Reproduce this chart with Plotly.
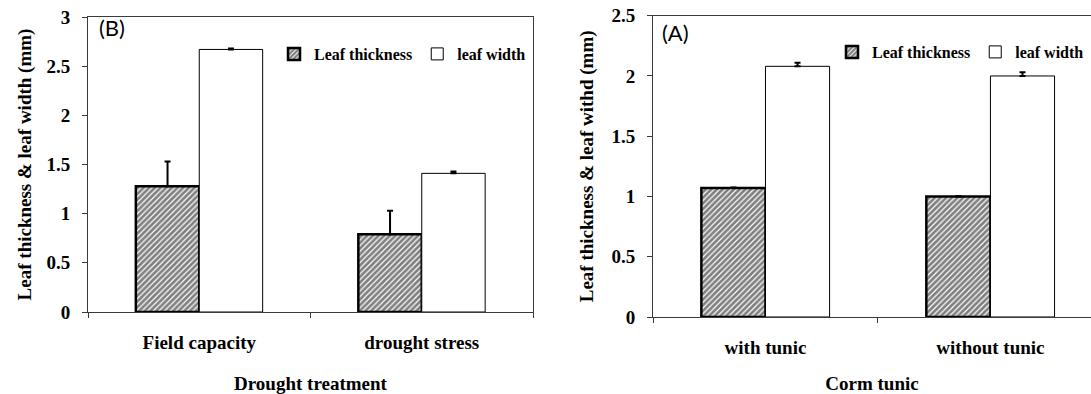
import plotly.graph_objects as go

# Panel (B): drought treatment
treatments = ["Field capacity", "drought stress"]
thickness_b = [1.28, 0.79]
thickness_b_err = [0.25, 0.24]
width_b = [2.67, 1.41]
width_b_err = [0.01, 0.02]

# Panel (A): corm tunic
tunic = ["with tunic", "without tunic"]
thickness_a = [1.07, 1.00]
thickness_a_err = [0.005, 0.005]
width_a = [2.08, 2.00]
width_a_err = [0.03, 0.03]

W, H = 1091, 394
SERIF = "Liberation Serif, Times New Roman, serif"
AXIS_COLOR = "#3a3a3a"

hatch = dict(shape="/", fgcolor="black", bgcolor="white", size=4, solidity=0.7)


def err(values):
    return dict(type="data", symmetric=False, array=values, arrayminus=[0] * len(values),
                color="black", thickness=2, width=3)


fig = go.Figure()

fig.add_trace(go.Bar(
    x=treatments, y=thickness_b, name="Leaf thickness", xaxis="x", yaxis="y",
    marker=dict(color="white", pattern=hatch, line=dict(color="black", width=2.5)),
    error_y=err(thickness_b_err), legend="legend",
))
fig.add_trace(go.Bar(
    x=treatments, y=width_b, name="leaf width", xaxis="x", yaxis="y",
    marker=dict(color="white", line=dict(color="black", width=1)),
    error_y=err(width_b_err), legend="legend",
))
fig.add_trace(go.Bar(
    x=tunic, y=thickness_a, name="Leaf thickness", xaxis="x2", yaxis="y2",
    marker=dict(color="white", pattern=hatch, line=dict(color="black", width=2.5)),
    error_y=err(thickness_a_err), legend="legend2",
))
fig.add_trace(go.Bar(
    x=tunic, y=width_a, name="leaf width", xaxis="x2", yaxis="y2",
    marker=dict(color="white", line=dict(color="black", width=1)),
    error_y=err(width_a_err), legend="legend2",
))

tick_font = dict(family=SERIF, size=19, color="black", weight="bold")
title_font = dict(family=SERIF, size=19, color="black", weight="bold")

# automargin stays on so the standoffs are honoured; margin.autoexpand=False keeps
# the plot areas exactly at their domains
common_x = dict(
    type="category", showline=True, linecolor=AXIS_COLOR, linewidth=1,
    ticks="outside", tickson="boundaries", ticklen=5, tickcolor=AXIS_COLOR,
    showgrid=False, zeroline=False, tickfont=tick_font, ticklabelstandoff=13,
    title_font=title_font, fixedrange=True, automargin=True,
)
common_y = dict(
    showline=True, linecolor=AXIS_COLOR, linewidth=1, ticks="outside", ticklen=5,
    tickcolor=AXIS_COLOR, showgrid=False, zeroline=False, tickfont=tick_font,
    ticklabelstandoff=8, dtick=0.5, title_font=title_font, fixedrange=True, automargin=True,
)

legend_common = dict(
    orientation="h", bgcolor="rgba(0,0,0,0)",
    font=dict(family=SERIF, size=16, color="black", weight="bold", style="normal"),
    yanchor="middle", itemwidth=30, tracegroupgap=0,
)

fig.update_layout(
    width=W, height=H, margin=dict(l=0, r=0, t=0, b=0, autoexpand=False),
    paper_bgcolor="white", plot_bgcolor="white",
    barmode="group", bargap=0.43, bargroupgap=0,
    xaxis=dict(common_x, domain=[88 / W, 533 / W], anchor="y", mirror=True, range=[-0.5, 1.5],
               title=dict(text="Drought treatment", standoff=25)),
    yaxis=dict(common_y, domain=[(H - 312) / H, (H - 17) / H], anchor="x", mirror=True, range=[0, 3],
               title=dict(text="Leaf thickness & leaf width (mm)", standoff=9)),
    xaxis2=dict(common_x, domain=[653 / W, 1.0], anchor="y2", mirror=True, range=[-0.5, 1.447],
                title=dict(text="Corm tunic", standoff=21)),
    yaxis2=dict(common_y, domain=[(H - 317) / H, (H - 15.7) / H], anchor="x2", mirror=False, range=[0, 2.5],
                title=dict(text="Leaf thickness & leaf withd (mm)", standoff=12)),
    legend=dict(legend_common, x=274 / W, xanchor="left", y=1 - 54 / H),
    legend2=dict(legend_common, x=1089 / W, xanchor="right", y=1 - 52 / H),
    annotations=[
        dict(text="(B)", x=97 / W, y=1 - 27 / H, xref="paper", yref="paper", xanchor="left",
             yanchor="middle", showarrow=False, font=dict(family="Lato", size=22, color="black")),
        dict(text="(A)", x=660 / W, y=1 - 33 / H, xref="paper", yref="paper", xanchor="left",
             yanchor="middle", showarrow=False, font=dict(family="Lato", size=22, color="black")),
    ],
)

fig.write_html("out.html")
